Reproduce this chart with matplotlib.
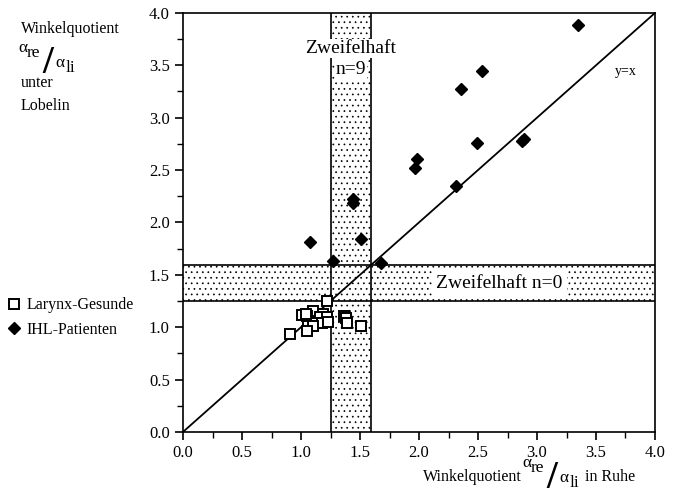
import matplotlib
matplotlib.use("Agg")
import matplotlib.pyplot as plt
from matplotlib.ticker import MultipleLocator

plt.rcParams['font.family'] = ['Liberation Serif', 'DejaVu Serif']
plt.rcParams['hatch.linewidth'] = 0.5

# Larynx-Gesunde (healthy), open squares
ges_x = [1.22, 0.91, 1.01, 1.10, 1.05, 1.19, 1.16, 1.22, 1.08, 1.12,
         1.18, 1.23, 1.06, 1.10, 1.05, 1.36, 1.38, 1.39, 1.51, 1.04]
ges_y = [1.25, 0.93, 1.12, 1.15, 1.11, 1.13, 1.10, 1.10, 1.05, 1.04,
         1.04, 1.05, 1.01, 1.01, 0.96, 1.11, 1.09, 1.04, 1.01, 1.13]

# IHL-Patienten, filled diamonds
ihl_x = [3.35, 2.53, 2.36, 2.49, 2.89, 2.87, 1.98, 1.97, 2.31, 1.44,
         1.44, 1.51, 1.08, 1.27, 1.68]
ihl_y = [3.88, 3.45, 3.27, 2.76, 2.80, 2.78, 2.61, 2.52, 2.35, 2.22,
         2.19, 1.84, 1.81, 1.635, 1.61]

# Zweifelhaft range
band_lo, band_hi = 1.25, 1.59

W, H = 683, 497
fig = plt.figure(figsize=(W / 100, H / 100), dpi=100)
ax = fig.add_axes([0.268, 0.131, 0.691, 0.843])


def ptext(x, y, s, **kw):
    # x, y in image pixels (y from top), text anchored at baseline
    kw.setdefault('va', 'baseline')
    return fig.text(x / W, 1 - y / H, s, **kw)


def ratio(x0, y0):
    # alpha_re / alpha_li written as a slanted fraction
    ptext(x0, y0, 'α', fontsize=12.5)
    ptext(x0 + 9, y0 + 5, 're', fontsize=12.5)
    ptext(x0 + 24, y0 + 21, '/', fontsize=28, fontweight='bold')
    ptext(x0 + 37, y0 + 15, 'α', fontsize=12.5)
    ptext(x0 + 48, y0 + 20, 'li', fontsize=12.5)


ax.axvspan(band_lo, band_hi, facecolor='white', edgecolor='black',
           hatch='...', lw=0, zorder=0)
ax.axhspan(band_lo, band_hi, facecolor='white', edgecolor='black',
           hatch='...', lw=0, zorder=0)
for v in (band_lo, band_hi):
    ax.axvline(v, color='black', lw=1.2, zorder=1)
    ax.axhline(v, color='black', lw=1.2, zorder=1)

ax.plot([0, 4], [0, 4], color='black', lw=1.3, zorder=2)

ax.plot(ges_x, ges_y, 's', mfc='white', mec='black', ms=6.5, mew=1.4,
        ls='none', zorder=3, label='Larynx-Gesunde')
ax.plot(ihl_x, ihl_y, 'D', color='black', ms=6, ls='none', zorder=3,
        label='IHL-Patienten')

ax.text(1.42, 3.66, 'Zweifelhaft', ha='center', va='center', fontsize=14,
        bbox=dict(facecolor='white', edgecolor='none', pad=1), zorder=4)
ax.text(1.42, 3.46, 'n=9', ha='center', va='center', fontsize=14,
        bbox=dict(facecolor='white', edgecolor='none', pad=0.5), zorder=0.5)
ax.text(2.68, 1.42, 'Zweifelhaft n=0', ha='center', va='center', fontsize=14,
        bbox=dict(facecolor='white', edgecolor='none', pad=3), zorder=4)
ax.text(3.75, 3.44, 'y=x', ha='center', va='center', fontsize=10)

ax.set_xlim(0, 4)
ax.set_ylim(0, 4)
ax.xaxis.set_major_locator(MultipleLocator(0.5))
ax.yaxis.set_major_locator(MultipleLocator(0.5))
ax.xaxis.set_minor_locator(MultipleLocator(0.25))
ax.yaxis.set_minor_locator(MultipleLocator(0.25))
ax.xaxis.set_major_formatter(plt.FormatStrFormatter('%.1f'))
ax.yaxis.set_major_formatter(plt.FormatStrFormatter('%.1f'))
ax.tick_params(which='major', direction='out', length=6, width=1.2,
               labelsize=12)
ax.tick_params(which='minor', direction='out', length=4, width=1.0)
for s in ax.spines.values():
    s.set_linewidth(1.2)

ax.legend(loc='upper left', bbox_to_anchor=(-0.003, 0.418),
          bbox_transform=fig.transFigure, frameon=False, fontsize=11.5,
          handletextpad=0.3, handlelength=1.0, borderpad=0, labelspacing=0.55)

# y axis label (top left)
ptext(21, 33, 'Winkelquotient', fontsize=11.5)
ratio(18, 52)
ptext(21, 87, 'unter', fontsize=11.5)
ptext(21, 110, 'Lobelin', fontsize=11.5)

# x axis label
ptext(423, 481, 'Winkelquotient', fontsize=11.5)
ratio(522, 467)
ptext(585, 481, 'in Ruhe', fontsize=11.5)

fig.savefig('out.png', dpi=100)
